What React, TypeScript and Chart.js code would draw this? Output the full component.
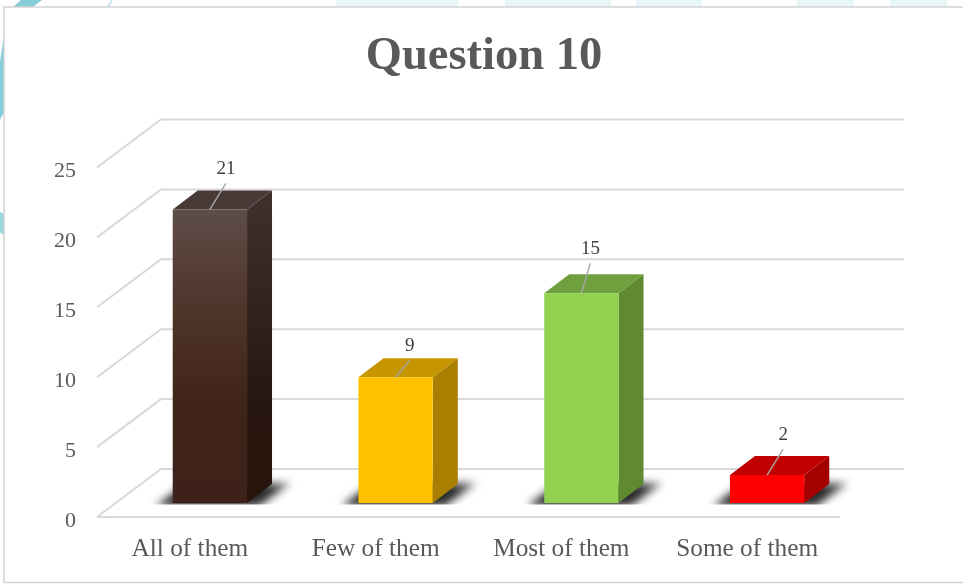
import React, { useEffect, useRef } from "react";
import { Chart, registerables } from "chart.js";

Chart.register(...registerables);

const categories = ["All of them", "Few of them", "Most of them", "Some of them"];
const values = [21, 9, 15, 2];
const yTicks = { min: 0, max: 25, step: 5 };
const chartTitle = "Question 10";

const frontColors = ["#3e2219", "#FFC000", "#92D050", "#FF0000"];
const topColors = ["#483a36", "#C79500", "#709F3D", "#C00000"];
const sideColors = ["#2b1a12", "#A87F00", "#5F8A2F", "#A50000"];
const brownFrontStops = ["#5e4d48", "#50352b", "#40241a", "#3e2219"];
const brownSideStops = ["#3c2f2c", "#32231d", "#281610", "#27150d"];
const leaderDx = [16, 14, 9, 16];
const leaderDy = [26, 17, 30, 26];

const SERIF = '"Liberation Serif", serif';
const GRID = "#d9d9d9";
const WALL = { dx: 64, dy: -48 };
const BAR_SHIFT = { dx: 20, dy: -14 };
const BAR_DEPTH = { dx: 25, dy: -19 };
const TICK_DROP = 4;

const poly = (c: CanvasRenderingContext2D, pts: number[][], fill: any) => {
  c.beginPath();
  pts.forEach((p, i) => (i ? c.lineTo(p[0], p[1]) : c.moveTo(p[0], p[1])));
  c.closePath();
  c.fillStyle = fill;
  c.fill();
};

const scene = {
  id: "scene",
  beforeDraw(chart: any) {
    const c = chart.ctx as CanvasRenderingContext2D;
    const ys = chart.scales.y;
    if (!ys.__dropped) {
      ys.__dropped = true;
      const orig = ys.drawLabels;
      ys.drawLabels = function (area: any) {
        c.save();
        c.translate(0, TICK_DROP);
        orig.call(this, area);
        c.restore();
      };
    }
    c.save();
    c.fillStyle = "#ffffff";
    c.fillRect(0, 0, chart.width, chart.height);
    poly(c, [[0, 62], [4, 34], [4, 112], [0, 120]], "#86cfda");
    poly(c, [[0, 212], [4, 214], [4, 236], [0, 232]], "#9ad8e1");
    poly(c, [[13, 7], [21, 0], [42, 0], [33, 7]], "#86cdd8");
    poly(c, [[107, 7], [111, 0], [113, 0], [109, 7]], "#c4e6ec");
    c.fillStyle = "#e8f6f9";
    [[336, 122], [505, 106], [636, 66], [797, 57], [890, 57]].forEach((s) => c.fillRect(s[0], 0, s[1], 7));
    c.strokeStyle = "#d4d4d4";
    c.lineWidth = 1.5;
    c.strokeRect(4, 7, 970, 575.5);
    c.restore();
  },
  beforeDatasetsDraw(chart: any) {
    const c = chart.ctx as CanvasRenderingContext2D;
    const { x: xs, y: ys } = chart.scales;
    c.save();
    c.strokeStyle = GRID;
    c.lineWidth = 2;
    ys.ticks.forEach((t: any) => {
      const py = ys.getPixelForValue(t.value);
      c.beginPath();
      c.moveTo(xs.left, py);
      c.lineTo(xs.left + WALL.dx, py + WALL.dy);
      c.lineTo(xs.right + WALL.dx, py + WALL.dy);
      c.stroke();
    });
    const py0 = ys.getPixelForValue(0);
    c.beginPath();
    c.moveTo(xs.left, py0);
    c.lineTo(xs.right, py0);
    c.stroke();

    const meta = chart.getDatasetMeta(0);
    meta.data.forEach((bar: any, i: number) => {
      const left = bar.x - bar.width / 2 + BAR_SHIFT.dx;
      const right = bar.x + bar.width / 2 + BAR_SHIFT.dx;
      const top = bar.y + BAR_SHIFT.dy;
      const bottom = bar.base + BAR_SHIFT.dy;
      const d = BAR_DEPTH;

      c.save();
      c.beginPath();
      c.rect(0, 0, chart.width, bottom + 1.5);
      c.clip();
      c.filter = "blur(4px)";
      const sh = c.createLinearGradient(right, bottom, right + 40, bottom - 21);
      sh.addColorStop(0, "#262626");
      sh.addColorStop(0.55, "#2e2e2e");
      sh.addColorStop(1, "#777777");
      poly(
        c,
        [
          [left - 17, bottom + 3],
          [right + 12, bottom + 3],
          [right + 44, bottom - 20],
          [left + 14, bottom - 20],
        ],
        sh
      );
      c.restore();

      let sideFill: any = sideColors[i];
      if (i === 0) {
        const g = c.createLinearGradient(0, top, 0, bottom);
        brownSideStops.forEach((s, k) => g.addColorStop(k / 3, s));
        sideFill = g;
      }
      poly(
        c,
        [
          [right, top],
          [right + d.dx, top + d.dy],
          [right + d.dx, bottom + d.dy],
          [right, bottom],
        ],
        sideFill
      );
      poly(
        c,
        [
          [left, top],
          [left + d.dx, top + d.dy],
          [right + d.dx, top + d.dy],
          [right, top],
        ],
        topColors[i]
      );
    });
    c.restore();
    c.save();
    c.translate(BAR_SHIFT.dx, BAR_SHIFT.dy);
  },
  afterDatasetsDraw(chart: any) {
    const c = chart.ctx as CanvasRenderingContext2D;
    c.restore();
    const meta = chart.getDatasetMeta(0);
    c.save();
    meta.data.forEach((bar: any, i: number) => {
      const x0 = bar.x + BAR_SHIFT.dx;
      const y0 = bar.y + BAR_SHIFT.dy;
      const x1 = x0 + leaderDx[i];
      const y1 = y0 - leaderDy[i];
      c.strokeStyle = "#a6a6a6";
      c.lineWidth = 1.4;
      c.beginPath();
      c.moveTo(x0, y0);
      c.lineTo(x1, y1);
      c.stroke();
      c.fillStyle = "#404040";
      c.font = `19px ${SERIF}`;
      c.textAlign = "center";
      c.textBaseline = "middle";
      c.fillText(String(values[i]), x1, y1 - 14.5);
    });
    c.restore();
  },
};

export default function App() {
  const ref = useRef<HTMLCanvasElement | null>(null);
  useEffect(() => {
    const chart = new Chart(ref.current as HTMLCanvasElement, {
      type: "bar",
      data: {
        labels: categories,
        datasets: [
          {
            label: chartTitle,
            data: values,
            categoryPercentage: 1,
            barPercentage: 0.4,
            borderWidth: 0,
            backgroundColor: (ctx: any) => {
              const i = ctx.dataIndex;
              const s = ctx.chart.scales && ctx.chart.scales.y;
              const a = s ? s.getPixelForValue(values[0]) : NaN;
              const b = s ? s.getPixelForValue(0) : NaN;
              if (i === 0 && Number.isFinite(a) && Number.isFinite(b)) {
                const g = ctx.chart.ctx.createLinearGradient(0, a, 0, b);
                brownFrontStops.forEach((c, k) => g.addColorStop(k / 3, c));
                return g;
              }
              return frontColors[i];
            },
          },
        ],
      },
      options: {
        animation: false,
        responsive: false,
        devicePixelRatio: 1,
        layout: { padding: { left: 5, right: 0, top: 0, bottom: 0 } },
        plugins: {
          legend: { display: false },
          tooltip: { enabled: false },
          title: {
            display: true,
            text: chartTitle,
            color: "#595959",
            font: { family: SERIF, size: 46.5, weight: "bold", lineHeight: 1.2 },
            padding: { top: 29, bottom: 82.7 },
          },
        },
        scales: {
          x: {
            grid: { display: false, drawTicks: false },
            border: { display: false },
            ticks: {
              color: "#595959",
              font: { family: SERIF, size: 25.3 },
              padding: 17,
              maxRotation: 0,
            },
            afterFit: (s: any) => {
              s.height = 67;
            },
          },
          y: {
            min: yTicks.min,
            max: yTicks.max,
            grid: { display: false, drawTicks: false },
            border: { display: false },
            ticks: {
              stepSize: yTicks.step,
              color: "#595959",
              font: { family: SERIF, size: 22 },
              padding: 21,
            },
            afterFit: (s: any) => {
              s.width = 92;
            },
          },
          spacer: {
            type: "linear",
            position: "right",
            grid: { display: false },
            border: { display: false },
            ticks: { display: false },
            afterFit: (s: any) => {
              s.width = 123;
            },
          },
        },
      } as any,
      plugins: [scene],
    });
    return () => chart.destroy();
  }, []);
  return (
    <div style={{ position: "absolute", left: 0, top: 0, width: 963, height: 584 }}>
      <canvas ref={ref} width={963} height={584} style={{ display: "block" }} />
    </div>
  );
}
